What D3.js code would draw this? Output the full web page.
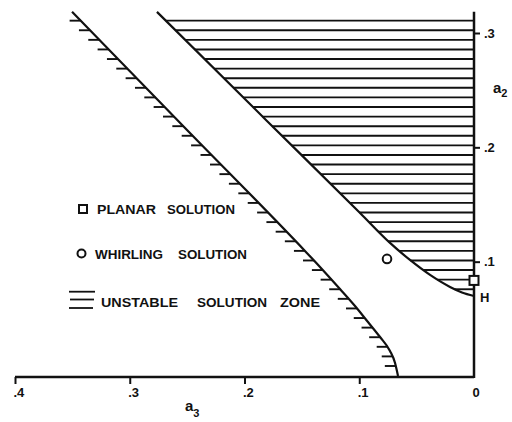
<!DOCTYPE html>
<html>
<head>
<meta charset="utf-8">
<script src="https://cdn.jsdelivr.net/npm/d3@7"></script>
<style>
  html, body { margin: 0; padding: 0; background: #fff; }
  svg { display: block; }
  text { font-family: "Liberation Sans", Arial, sans-serif; font-weight: 700; fill: #111; }
</style>
</head>
<body>
<svg id="chart" width="512" height="422"></svg>
<script>
// ---------------- data ----------------
const a3Ticks = [0.4, 0.3, 0.2, 0.1, 0];
const a2Ticks = [0.1, 0.2, 0.3];

// upper boundary (unstable zone above/right of it), ends at point H on the a2 axis
const upperA3 = [0.2763, 0.1804, 0.0993, 0.0732, 0.0558, 0.0383, 0.0209, 0.0105, 0.0];
const upperA2 = [0.3185, 0.2231, 0.1426, 0.1164, 0.1015, 0.0884, 0.0779, 0.0731, 0.0700];

// lower boundary (unstable zone below/left of it)
const lowerA3 = [0.3503, 0.2501, 0.1473, 0.1342, 0.1168, 0.1037, 0.0924, 0.0819, 0.0732, 0.0688, 0.0662];
const lowerA2 = [0.3185, 0.2152, 0.1094, 0.0954, 0.0761, 0.0612, 0.0472, 0.0341, 0.0219, 0.0114, 0.0];

const planarA3 = [0.0];
const planarA2 = [0.0836];
const whirlingA3 = [0.0758];
const whirlingA2 = [0.1024];
const pointHA2 = 0.0700;

const legendLabels = [
  ["PLANAR", "SOLUTION"],
  ["WHIRLING", "SOLUTION"],
  ["UNSTABLE", "SOLUTION", "ZONE"]
];

// ---------------- drawing ----------------
const svg = d3.select("#chart");
svg.append("rect").attr("width", 512).attr("height", 422).attr("fill", "#fff");

const x = d3.scaleLinear().domain([0.4, 0]).range([15, 474]);
const y = d3.scaleLinear().domain([0, 0.3]).range([376, 33]);
const a2Top = 0.3185;

const ink = "#111";

// boundary curves
const line = d3.line().x(d => x(d[0])).y(d => y(d[1])).curve(d3.curveMonotoneX);
const upperPts = upperA3.map((v, i) => [v, upperA2[i]]);
const lowerPts = lowerA3.map((v, i) => [v, lowerA2[i]]);

const upperPath = svg.append("path").attr("d", line(upperPts))
  .attr("fill", "none").attr("stroke", ink).attr("stroke-width", 2.2);
const lowerPath = svg.append("path").attr("d", line(lowerPts))
  .attr("fill", "none").attr("stroke", ink).attr("stroke-width", 2.2);

// sample a path to find x at a given pixel y
function sampler(pathNode) {
  const L = pathNode.getTotalLength();
  const pts = d3.range(0, L + 0.5, 0.5).map(l => pathNode.getPointAtLength(Math.min(l, L)));
  pts.sort((a, b) => a.y - b.y);
  return function (py) {
    const i = d3.bisector(p => p.y).left(pts, py);
    if (i <= 0) return pts[0].x;
    if (i >= pts.length) return pts[pts.length - 1].x;
    const p0 = pts[i - 1], p1 = pts[i];
    const t = (p1.y - p0.y) === 0 ? 0 : (py - p0.y) / (p1.y - p0.y);
    return p0.x + t * (p1.x - p0.x);
  };
}
const upperX = sampler(upperPath.node());
const lowerX = sampler(lowerPath.node());

// hatch levels (pattern spacing)
const hatchLevels = d3.range(0.00875, 0.3125, 0.00839);

// upper zone: full hatch lines from curve to the a2 axis
svg.append("g").selectAll("line")
  .data(hatchLevels.filter(v => v > pointHA2 + 0.001 && v < a2Top))
  .join("line")
  .attr("x1", d => upperX(y(d)))
  .attr("x2", x(0))
  .attr("y1", d => y(d)).attr("y2", d => y(d))
  .attr("stroke", ink).attr("stroke-width", 1.9);

// lower zone: short ticks to the left of the curve
svg.append("g").selectAll("line")
  .data(hatchLevels.filter(v => v < a2Top))
  .join("line")
  .attr("x1", d => lowerX(y(d)) - 11)
  .attr("x2", d => lowerX(y(d)))
  .attr("y1", d => y(d)).attr("y2", d => y(d))
  .attr("stroke", ink).attr("stroke-width", 1.9);

// axes lines
svg.append("line").attr("x1", x(0.4)).attr("x2", x(0)).attr("y1", y(0) + 1).attr("y2", y(0) + 1)
  .attr("stroke", ink).attr("stroke-width", 2.5);
svg.append("line").attr("x1", x(0)).attr("x2", x(0)).attr("y1", y(0) + 2).attr("y2", y(a2Top))
  .attr("stroke", ink).attr("stroke-width", 2.5);

const fmt = d => d === 0 ? "0" : d3.format(".1f")(d).replace(/^0/, "");

const gx = svg.append("g").attr("transform", `translate(0,${y(0) + 1})`)
  .call(d3.axisBottom(x).tickValues(a3Ticks).tickSize(7).tickPadding(4).tickFormat(fmt));
gx.select(".domain").remove();
gx.selectAll(".tick line").attr("stroke", ink).attr("stroke-width", 2)
  .attr("opacity", d => d === 0 ? 0 : 1);
gx.selectAll(".tick text").attr("text-anchor", "start").attr("dx", -2)
  .style("font-size", "13px").style("font-family", "'Liberation Sans', Arial, sans-serif")
  .style("font-weight", 700).attr("fill", ink);

const gy = svg.append("g").attr("transform", `translate(${x(0)},0)`)
  .call(d3.axisRight(y).tickValues(a2Ticks).tickSize(6).tickPadding(4).tickFormat(fmt));
gy.select(".domain").remove();
gy.selectAll(".tick line").attr("stroke", ink).attr("stroke-width", 2);
gy.selectAll(".tick text")
  .style("font-size", "13px").style("font-family", "'Liberation Sans', Arial, sans-serif")
  .style("font-weight", 700).attr("fill", ink);

// axis titles
const t3 = svg.append("text").attr("x", 185).attr("y", 411).style("font-size", "15px");
t3.append("tspan").text("a");
t3.append("tspan").attr("dy", 6).style("font-size", "11px").text("3");
const t2 = svg.append("text").attr("x", 493).attr("y", 93).style("font-size", "15px");
t2.append("tspan").text("a");
t2.append("tspan").attr("dy", 4).style("font-size", "11px").text("2");

// point H label
svg.append("text").attr("x", x(0) + 6).attr("y", y(pointHA2) + 6).style("font-size", "13px").text("H");

// solution markers
svg.append("g").selectAll("rect").data(planarA3.map((v, i) => [v, planarA2[i]])).join("rect")
  .attr("x", d => x(d[0]) - 4.5).attr("y", d => y(d[1]) - 4.5)
  .attr("width", 9).attr("height", 9)
  .attr("fill", "#fff").attr("stroke", ink).attr("stroke-width", 2);
svg.append("g").selectAll("circle").data(whirlingA3.map((v, i) => [v, whirlingA2[i]])).join("circle")
  .attr("cx", d => x(d[0])).attr("cy", d => y(d[1])).attr("r", 4.3)
  .attr("fill", "#fff").attr("stroke", ink).attr("stroke-width", 2);

// legend
const wordPos = [
  [[97, 59], [167, 68]],
  [[95, 68], [178, 69]],
  [[101, 77], [197, 70], [280, 40]]
];
const baselines = [214, 259, 307];
legendLabels.forEach((words, i) => {
  const t = svg.append("text").attr("y", baselines[i]).style("font-size", "13.5px");
  words.forEach((w, j) => {
    t.append("tspan").attr("x", wordPos[i][j][0])
      .attr("textLength", wordPos[i][j][1]).attr("lengthAdjust", "spacingAndGlyphs").text(w);
  });
});
svg.append("rect").attr("x", 79).attr("y", 205).attr("width", 8).attr("height", 8)
  .attr("fill", "#fff").attr("stroke", ink).attr("stroke-width", 2);
svg.append("circle").attr("cx", 81.5).attr("cy", 253.5).attr("r", 4)
  .attr("fill", "#fff").attr("stroke", ink).attr("stroke-width", 2);
[[69, 95, 291.7], [70, 94, 299.5], [69, 93, 308]].forEach(s => {
  svg.append("line").attr("x1", s[0]).attr("x2", s[1]).attr("y1", s[2]).attr("y2", s[2])
    .attr("stroke", ink).attr("stroke-width", 1.8);
});
</script>
</body>
</html>
